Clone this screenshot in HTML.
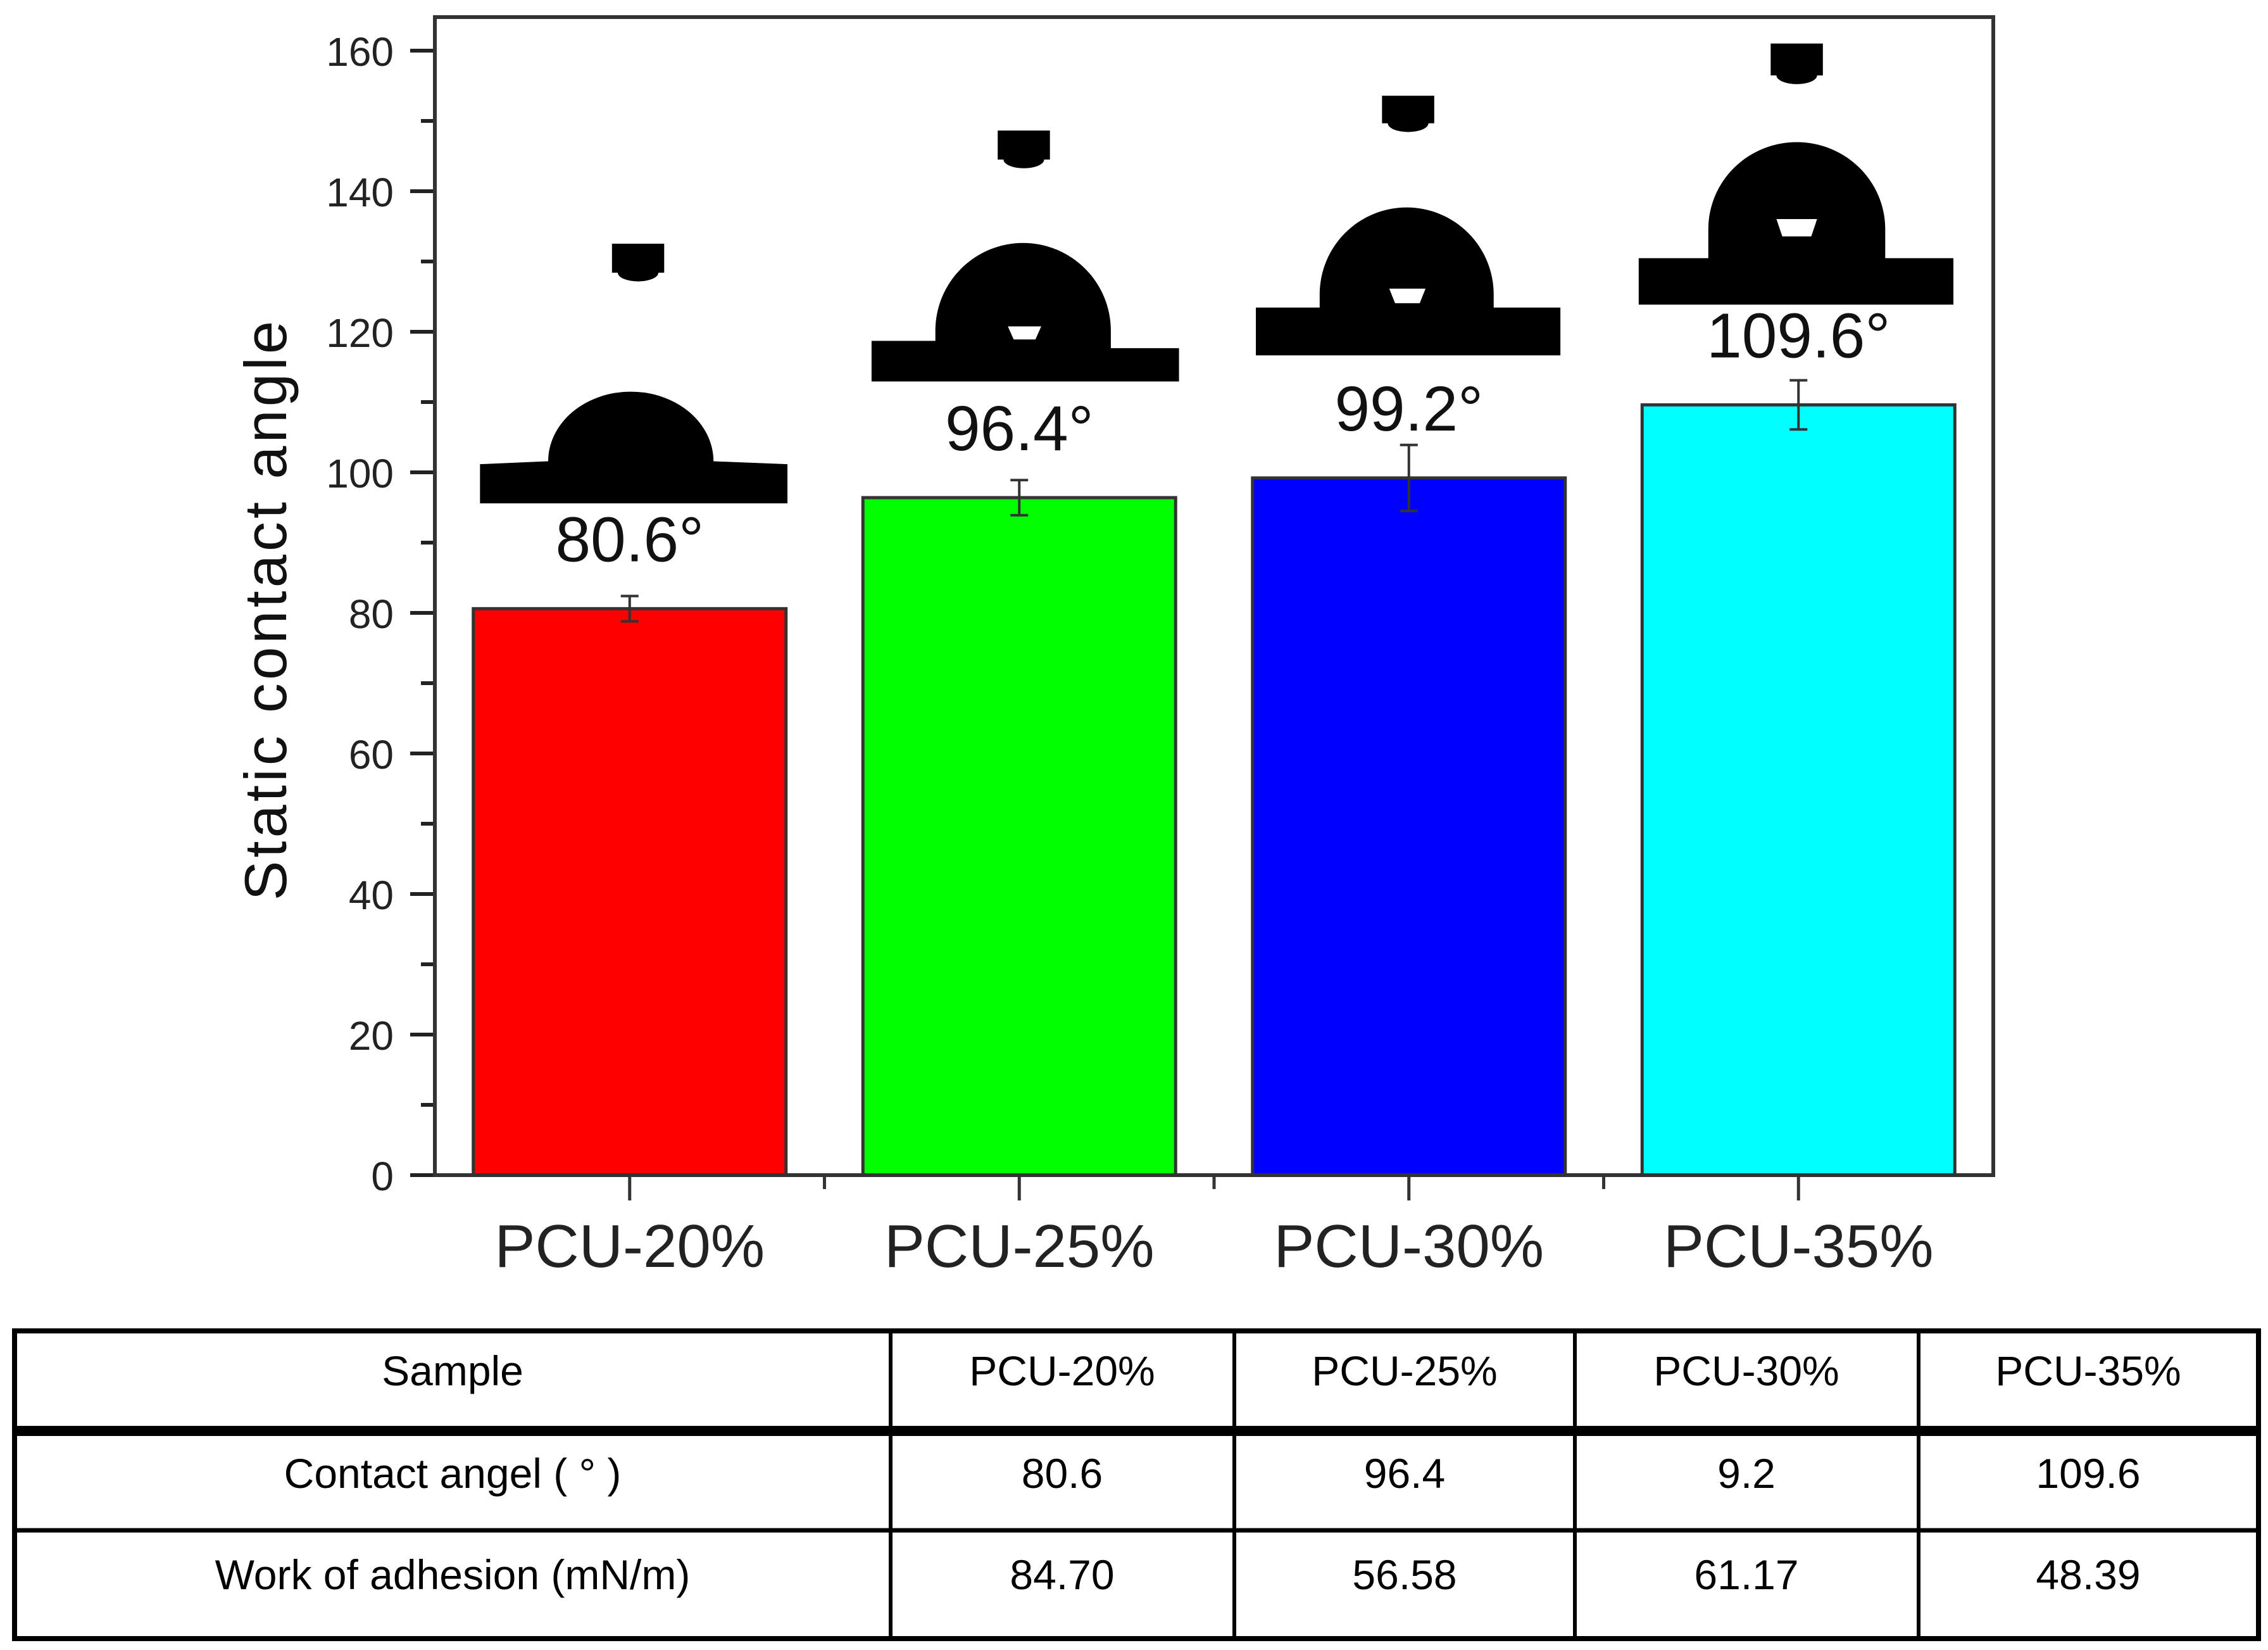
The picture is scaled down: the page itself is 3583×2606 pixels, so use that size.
<!DOCTYPE html>
<html><head><meta charset="utf-8"><style>
html,body{margin:0;padding:0;background:#fff;}
svg{display:block;}
</style></head><body>
<svg id="chart" width="3583" height="2606" viewBox="0 0 3583 2606" xmlns="http://www.w3.org/2000/svg">
<rect width="3583" height="2606" fill="#fff"/>
<g id="plot"></g>
<g id="drops" transform="scale(2.291)">
  <g>
    <rect x="422" y="168" width="36" height="20" fill="#000"/><ellipse cx="440" cy="188" rx="14" ry="6" fill="#000"/>
    <path d="M331,320 L378,318 A57,48 0 0 1 492,318 L543,320 L543,347 L331,347 Z" fill="#000"/>
  </g>
  <g>
    <rect x="688" y="90" width="36" height="20" fill="#000"/><ellipse cx="706" cy="110" rx="14" ry="6" fill="#000"/>
    <path d="M601,235 L645,235 L645,228 A60,60 0 0 1 766,228 L766,240 L813,240 L813,263 L601,263 Z" fill="#000"/>
    <path d="M695,225 L718,225 L714,234 L699,234 Z" fill="#fff"/>
  </g>
  <g>
    <rect x="953" y="66" width="36" height="19" fill="#000"/><ellipse cx="971" cy="85" rx="14" ry="6" fill="#000"/>
    <path d="M866,212 L910,212 L910,203 A60,60 0 0 1 1030,203 L1030,212 L1076,212 L1076,245 L866,245 Z" fill="#000"/>
    <path d="M958,199 L983,199 L979,209 L962,209 Z" fill="#fff"/>
  </g>
  <g>
    <rect x="1221" y="30" width="36" height="22" fill="#000"/><ellipse cx="1239" cy="52" rx="14" ry="6" fill="#000"/>
    <path d="M1130,178 L1178,178 L1178,158 A61,60 0 0 1 1300,158 L1300,178 L1347,178 L1347,210 L1130,210 Z" fill="#000"/>
    <path d="M1225,151 L1253,151 L1249,163 L1229,163 Z" fill="#fff"/>
  </g>
</g>
<g font-family="'Liberation Sans Narrow','Liberation Sans',sans-serif" font-size="66" fill="#000" text-anchor="middle">
  <rect x="23" y="2102" width="3545" height="486" fill="none" stroke="#000" stroke-width="8"/>
  <rect x="23" y="2252" width="3545" height="16" fill="#000"/>
  <line x1="23" y1="2417" x2="3568" y2="2417" stroke="#000" stroke-width="7"/>
  <line x1="1407" y1="2102" x2="1407" y2="2588" stroke="#000" stroke-width="6"/>
  <line x1="1950" y1="2102" x2="1950" y2="2588" stroke="#000" stroke-width="6"/>
  <line x1="2488" y1="2102" x2="2488" y2="2588" stroke="#000" stroke-width="6"/>
  <line x1="3031" y1="2102" x2="3031" y2="2588" stroke="#000" stroke-width="6"/>
  <text x="715" y="2188">Sample</text>
  <text x="1678" y="2188">PCU-20%</text>
  <text x="2219" y="2188">PCU-25%</text>
  <text x="2759" y="2188">PCU-30%</text>
  <text x="3299" y="2188">PCU-35%</text>
  <text x="715" y="2350">Contact angel (  °  )</text>
  <text x="1678" y="2350">80.6</text>
  <text x="2219" y="2350">96.4</text>
  <text x="2759" y="2350">9.2</text>
  <text x="3299" y="2350">109.6</text>
  <text x="715" y="2510">Work of adhesion (mN/m)</text>
  <text x="1678" y="2510">84.70</text>
  <text x="2219" y="2510">56.58</text>
  <text x="2759" y="2510">61.17</text>
  <text x="3299" y="2510">48.39</text>
</g>
</svg>
<script>
const categories = ["PCU-20%", "PCU-25%", "PCU-30%", "PCU-35%"];
const values = [80.6, 96.4, 99.2, 109.6];
const errors = [1.8, 2.5, 4.7, 3.5];
const barColors = ["#ff0000", "#00ff00", "#0000ff", "#00ffff"];
const valueLabels = ["80.6°", "96.4°", "99.2°", "109.6°"];
const yTicks = [0, 20, 40, 60, 80, 100, 120, 140, 160];
const labelOffsets = [30, 30, 30, 30];

const NS = "http://www.w3.org/2000/svg";
const plot = document.getElementById('plot');
const X0 = 687, X1 = 3149, Y0 = 1856, YTOP = 27;
const yScale = v => Y0 - (v / 160) * (Y0 - 80);
const band = (X1 - X0) / categories.length;
const xCenter = i => X0 + band * (i + 0.5);
const barW = 494;
function mk(tag, attrs) { const e = document.createElementNS(NS, tag); for (const k in attrs) e.setAttribute(k, attrs[k]); plot.appendChild(e); return e; }

categories.forEach((c, i) => {
  const cx = xCenter(i), top = yScale(values[i]);
  const bar = mk('rect', {x: cx - barW / 2, y: top, width: barW, height: Y0 - top, fill: barColors[i], stroke: '#333', 'stroke-width': 5});
  
  
  const eh = yScale(values[i] + errors[i]), el = yScale(values[i] - errors[i]);
  const eb = mk('path', {d: `M${cx},${eh}V${el}M${cx - 14},${eh}H${cx + 14}M${cx - 14},${el}H${cx + 14}`, stroke: '#333', 'stroke-width': 4, fill: 'none'});
  
  
  const vl = mk('text', {x: cx, y: top - 105 + labelOffsets[i], 'font-family': 'Liberation Sans, sans-serif', 'font-size': 100, 'text-anchor': 'middle', fill: '#111'});
  vl.textContent = valueLabels[i];
  
  
  const tk = mk('line', {x1: cx, y1: Y0, x2: cx, y2: Y0 + 40, stroke: '#333', 'stroke-width': 5});
  
  
  const xl = mk('text', {x: cx, y: Y0 + 145, 'font-family': 'Liberation Sans, sans-serif', 'font-size': 96, 'text-anchor': 'middle', fill: '#222'});
  xl.textContent = c;
  
  
  if (i > 0) {
    const mt = mk('line', {x1: X0 + band * i, y1: Y0, x2: X0 + band * i, y2: Y0 + 22, stroke: '#333', 'stroke-width': 5});
    
    
  }
});

yTicks.forEach((t, i) => {
  const y = yScale(t);
  const tk = mk('line', {x1: X0 - 39, y1: y, x2: X0, y2: y, stroke: '#222', 'stroke-width': 6});
  
  
  const lb = mk('text', {x: 622, y: y + 24, 'font-family': 'Liberation Sans, sans-serif', 'font-size': 64, 'text-anchor': 'end', fill: '#222'});
  lb.textContent = t;
  
  
  if (i < yTicks.length - 1) {
    const ym = yScale((t + yTicks[i + 1]) / 2);
    const mt = mk('line', {x1: X0 - 22, y1: ym, x2: X0, y2: ym, stroke: '#222', 'stroke-width': 6});
    
    
  }
});

const frame = mk('rect', {x: X0, y: YTOP, width: X1 - X0, height: Y0 - YTOP, fill: 'none', stroke: '#333', 'stroke-width': 6});


const yt = mk('text', {x: 0, y: 0, transform: 'translate(452,962) rotate(-90)', 'font-family': 'Liberation Sans, sans-serif', 'font-size': 94, 'letter-spacing': 5, 'text-anchor': 'middle', fill: '#111', 'xml:space': 'preserve'});
yt.textContent = 'Static  contact  angle';


</script>
</body></html>
